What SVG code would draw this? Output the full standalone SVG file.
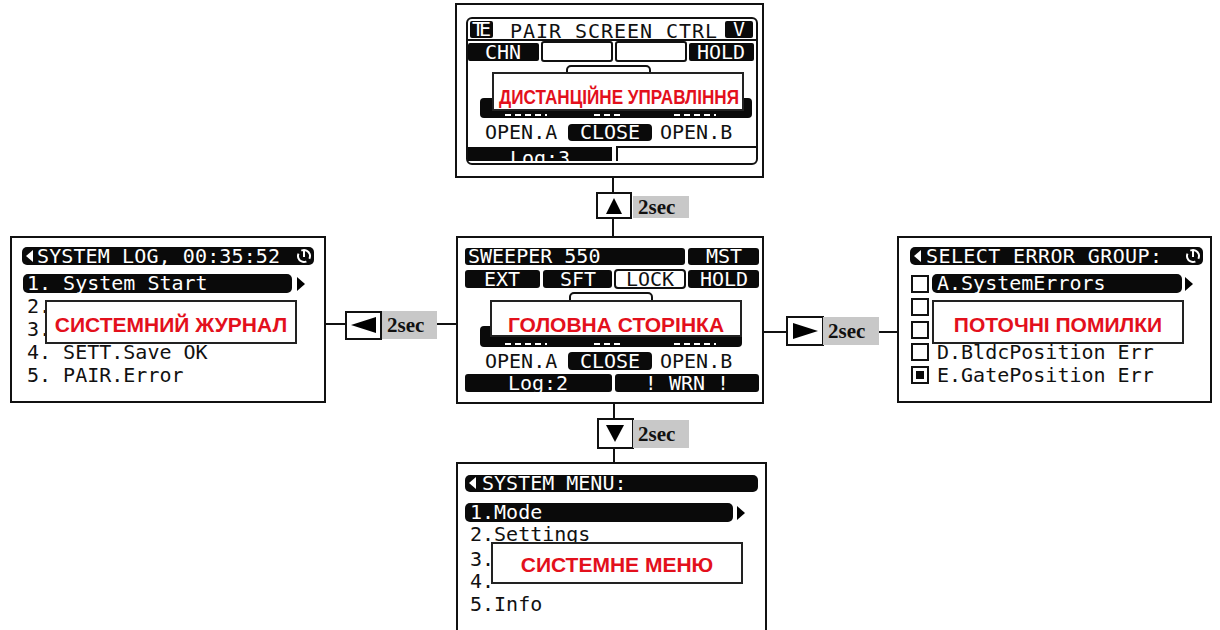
<svg xmlns="http://www.w3.org/2000/svg" width="1220" height="630" viewBox="0 0 1220 630">
<defs>
<style>
.frame{fill:#fff;stroke:#111;stroke-width:2}
.bar{fill:#0a0a0a}
.obox{fill:#fff;stroke:#111;stroke-width:2}
.lcd{font-family:"DejaVu Sans Mono","Liberation Mono",monospace;font-size:20px;fill:#111}
.lcdw{font-family:"DejaVu Sans Mono","Liberation Mono",monospace;font-size:20px;fill:#fff}
.lbl{fill:#fff;stroke:#222;stroke-width:2}
.red{font-family:"Liberation Sans",Arial,sans-serif;font-weight:bold;font-size:21px;fill:#e3101c;text-anchor:middle}
.btn{fill:#fff;stroke:#111;stroke-width:2}
.sec{fill:#c8c8c8}
.sect{font-family:"Liberation Serif","Times New Roman",serif;font-weight:bold;font-size:21px;fill:#111}
.conn{stroke:#111;stroke-width:2;fill:none}
.dash{stroke:#fff;stroke-width:2;stroke-dasharray:6 4}
</style>
<clipPath id="clipLog3"><rect x="467" y="146" width="150" height="15"/></clipPath>
</defs>

<g id="connectors">
<line class="conn" x1="613" y1="177" x2="613" y2="237"/>
<line class="conn" x1="325" y1="324" x2="457" y2="324"/>
<line class="conn" x1="763" y1="332" x2="898" y2="332"/>
<line class="conn" x1="614" y1="403" x2="614" y2="463"/>
<g id="btn-up">
<rect class="btn" x="597" y="193" width="34" height="25"/>
<polygon points="614,198 606,214 622,214" fill="#000"/>
<rect class="sec" x="633" y="196" width="56" height="22"/>
<text class="sect" x="638" y="214">2sec</text>
</g>
<g id="btn-left">
<rect class="btn" x="346" y="312" width="35" height="27"/>
<polygon points="351,325 376,317 376,333" fill="#000"/>
<rect class="sec" x="382" y="311" width="55" height="28"/>
<text class="sect" x="387" y="332">2sec</text>
</g>
<g id="btn-right">
<rect class="btn" x="787" y="317" width="36" height="28"/>
<polygon points="818,331 793,323 793,339" fill="#000"/>
<rect class="sec" x="823" y="317" width="56" height="28"/>
<text class="sect" x="828" y="338">2sec</text>
</g>
<g id="btn-down">
<rect class="btn" x="598" y="419" width="35" height="29"/>
<polygon points="615,442 606,425 624,425" fill="#000"/>
<rect class="sec" x="633" y="420" width="56" height="28"/>
<text class="sect" x="638" y="441">2sec</text>
</g>
</g>

<g id="node-top">
<rect class="frame" x="456" y="4" width="307" height="173"/>
<rect x="467" y="18" width="290" height="146" rx="5" fill="none" stroke="#111" stroke-width="2"/>
<line x1="467" y1="40" x2="757" y2="40" stroke="#111" stroke-width="2"/>
<rect class="bar" x="470" y="21" width="23" height="17" rx="2"/>
<text class="lcdw" x="472" y="36" font-size="16" textLength="19">TE</text>
<text class="lcd" x="510" y="38" textLength="207">PAIR SCREEN CTRL</text>
<rect class="bar" x="725" y="21" width="28" height="17" rx="2"/>
<text class="lcdw" x="733" y="36" font-size="16">V</text>
<rect class="bar" x="468" y="43" width="71" height="18" rx="2"/>
<text class="lcdw" x="503" y="59" text-anchor="middle">CHN</text>
<rect class="obox" x="542" y="42" width="70" height="19" rx="2"/>
<rect class="obox" x="616" y="42" width="70" height="19" rx="2"/>
<rect class="bar" x="689" y="43" width="65" height="18" rx="2"/>
<text class="lcdw" x="721" y="59" text-anchor="middle">HOLD</text>
<rect class="obox" x="567" y="66" width="83" height="14" rx="4"/>
<rect class="bar" x="480" y="98" width="272" height="20" rx="4"/>
<line class="dash" x1="505" y1="115" x2="547" y2="115"/>
<line class="dash" x1="594" y1="115" x2="622" y2="115"/>
<line class="dash" x1="674" y1="115" x2="716" y2="115"/>
<rect class="lbl" x="493" y="73" width="250" height="37"/>
<text class="red" x="619" y="104" font-size="20" textLength="240" lengthAdjust="spacingAndGlyphs">ДИСТАНЦІЙНЕ УПРАВЛІННЯ</text>
<text class="lcd" x="485" y="139">OPEN.A</text>
<rect class="bar" x="568" y="124" width="84" height="17" rx="4"/>
<text class="lcdw" x="610" y="139" text-anchor="middle">CLOSE</text>
<text class="lcd" x="660" y="139">OPEN.B</text>
<rect class="bar" x="468" y="147" width="144" height="14"/>
<text class="lcdw" x="540" y="165" text-anchor="middle" clip-path="url(#clipLog3)">Log:3</text>
<path d="M617,161 V147 H757" fill="none" stroke="#111" stroke-width="2"/>
</g>

<g id="node-center">
<rect class="frame" x="457" y="237" width="306" height="166"/>
<rect class="bar" x="465" y="248" width="220" height="17" rx="3"/>
<text class="lcdw" x="468" y="263">SWEEPER 550</text>
<rect class="bar" x="688" y="248" width="71" height="17" rx="3"/>
<text class="lcdw" x="724" y="263" text-anchor="middle">MST</text>
<rect class="bar" x="465" y="270" width="75" height="18" rx="3"/>
<text class="lcdw" x="502" y="286" text-anchor="middle">EXT</text>
<rect class="bar" x="543" y="270" width="69" height="18" rx="3"/>
<text class="lcdw" x="578" y="286" text-anchor="middle">SFT</text>
<rect class="obox" x="615" y="270" width="70" height="18" rx="3"/>
<text class="lcd" x="650" y="286" text-anchor="middle">LOCK</text>
<rect class="bar" x="688" y="270" width="71" height="18" rx="3"/>
<text class="lcdw" x="724" y="286" text-anchor="middle">HOLD</text>
<rect class="obox" x="570" y="293" width="82" height="14" rx="4"/>
<rect class="bar" x="480" y="326" width="262" height="21" rx="4"/>
<line class="dash" x1="505" y1="344" x2="547" y2="344"/>
<line class="dash" x1="594" y1="344" x2="622" y2="344"/>
<line class="dash" x1="674" y1="344" x2="716" y2="344"/>
<rect class="lbl" x="491" y="301" width="250" height="35"/>
<text class="red" x="616" y="332">ГОЛОВНА СТОРІНКА</text>
<text class="lcd" x="485" y="368">OPEN.A</text>
<rect class="bar" x="568" y="352" width="84" height="18" rx="4"/>
<text class="lcdw" x="610" y="368" text-anchor="middle">CLOSE</text>
<text class="lcd" x="660" y="368">OPEN.B</text>
<rect class="bar" x="465" y="374" width="147" height="18" rx="3"/>
<text class="lcdw" x="538" y="390" text-anchor="middle">Log:2</text>
<rect class="bar" x="615" y="374" width="144" height="18" rx="3"/>
<text class="lcdw" x="687" y="390" text-anchor="middle">! WRN !</text>
</g>

<g id="node-left">
<rect class="frame" x="11" y="237" width="314" height="165"/>
<rect class="bar" x="22" y="247" width="292" height="18" rx="5"/>
<polygon points="26,256 33,250 33,262" fill="#fff"/>
<text class="lcdw" x="37" y="263" textLength="243">SYSTEM LOG, 00:35:52</text>
<circle cx="304" cy="256" r="6" fill="none" stroke="#fff" stroke-width="2" stroke-dasharray="14 4" transform="rotate(-110 304 256)"/>
<line x1="304" y1="250" x2="304" y2="257" stroke="#fff" stroke-width="2"/>
<rect class="bar" x="23" y="274" width="269" height="19" rx="5"/>
<text class="lcdw" x="27" y="290">1. System Start</text>
<polygon points="297,277 305,284 297,291" fill="#000"/>
<text class="lcd" x="27" y="313">2.</text>
<text class="lcd" x="27" y="336">3.</text>
<rect class="lbl" x="46" y="301" width="250" height="42"/>
<text class="red" x="171" y="332">СИСТЕМНИЙ ЖУРНАЛ</text>
<text class="lcd" x="27" y="359">4. SETT.Save OK</text>
<text class="lcd" x="27" y="382">5. PAIR.Error</text>
</g>

<g id="node-right">
<rect class="frame" x="898" y="237" width="313" height="165"/>
<rect class="bar" x="910" y="247" width="293" height="18" rx="5"/>
<polygon points="914,256 921,250 921,262" fill="#fff"/>
<text class="lcdw" x="926" y="263" textLength="236">SELECT ERROR GROUP:</text>
<circle cx="1193" cy="256" r="6" fill="none" stroke="#fff" stroke-width="2" stroke-dasharray="14 4" transform="rotate(-110 1193 256)"/>
<line x1="1193" y1="250" x2="1193" y2="257" stroke="#fff" stroke-width="2"/>
<rect class="obox" x="912" y="276" width="16" height="16"/>
<rect class="bar" x="932" y="274" width="250" height="19" rx="5"/>
<text class="lcdw" x="937" y="290">A.SystemErrors</text>
<polygon points="1185,277 1193,284 1185,291" fill="#000"/>
<rect class="obox" x="912" y="299" width="16" height="16"/>
<rect class="obox" x="912" y="322" width="16" height="16"/>
<rect class="obox" x="912" y="344" width="16" height="16"/>
<rect class="obox" x="912" y="367" width="16" height="16"/>
<rect class="bar" x="916" y="371" width="8" height="8"/>
<rect class="lbl" x="933" y="301" width="250" height="42"/>
<text class="red" x="1058" y="332">ПОТОЧНІ ПОМИЛКИ</text>
<text class="lcd" x="937" y="359">D.BldcPosition Err</text>
<text class="lcd" x="937" y="382">E.GatePosition Err</text>
</g>

<g id="node-bottom">
<rect class="frame" x="457" y="463" width="309" height="172"/>
<rect class="bar" x="465" y="475" width="293" height="17" rx="5"/>
<polygon points="469,483 476,477 476,489" fill="#fff"/>
<text class="lcdw" x="482" y="490">SYSTEM MENU:</text>
<rect class="bar" x="465" y="503" width="268" height="19" rx="5"/>
<text class="lcdw" x="470" y="519">1.Mode</text>
<polygon points="737,506 745,513 737,520" fill="#000"/>
<text class="lcd" x="470" y="541">2.Settings</text>
<text class="lcd" x="470" y="566">3.</text>
<text class="lcd" x="470" y="588">4.</text>
<rect class="lbl" x="492" y="543" width="250" height="40"/>
<text class="red" x="617" y="572">СИСТЕМНЕ МЕНЮ</text>
<text class="lcd" x="470" y="611">5.Info</text>
</g>
</svg>
